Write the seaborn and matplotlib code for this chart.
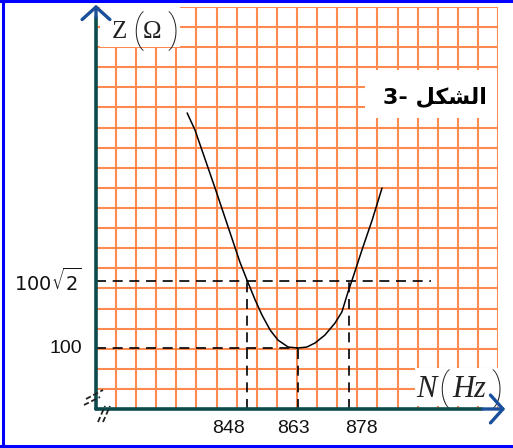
import numpy as np
import matplotlib
matplotlib.use("Agg")
import matplotlib.pyplot as plt
import seaborn as sns
from matplotlib.lines import Line2D
from matplotlib.patches import Rectangle, FancyArrowPatch

# ---------------- data ----------------
freq_hz = [830.4, 832.7, 838.6, 845.9, 848.0, 850.4, 852.4, 854.8, 857.1, 860.1,
           863.0, 865.6, 868.0, 870.9, 873.9, 875.9, 877.7, 878.9, 881.8, 884.8, 887.7]
impedance_ohm = [245.3, 234.8, 198.9, 153.2, 142.0, 129.7, 120.4, 111.1, 104.9, 100.6,
                 100.0, 100.6, 103.1, 108.0, 115.5, 122.3, 134.6, 142.0, 160.6, 179.1, 198.9]
marked_freq = [848, 863, 878]
marked_freq_labels = ["848", "863", "878"]
z_levels = [100.0, 100.0 * np.sqrt(2)]
z_level_labels = ["100", r"$100\sqrt{2}$"]
y_title_parts = ["Z", "(", "\u03A9", ")"]          # Z(Ω)
x_title_parts = ["N", "(", "Hz", ")"]              # N(Hz)
fig_title = "3- " + "\uFEDE\uFEDC\uFEB8\uFEDF\uFE8D"   # "الشكل -3" (shaped, visual order)

# ---------------- layout ----------------
W, H = 513, 448
XLIM = (803.6, 921.8)
YLIM = (62.3, 310.8)
SQRT2_LINE_END = 902.0
GRID_C = "#ff8a50"
AXIS_C = "#0b4b4b"
ARROW_C = "#1a4f9c"
BORDER_C = "#0000ff"


def P(px, py):
    return (px / W, 1 - py / H)


sns.set_theme(style="white")
plt.rcParams["font.family"] = ["Liberation Sans", "DejaVu Sans"]

fig = plt.figure(figsize=(W / 100, H / 100), dpi=100)
fig.patch.set_facecolor("white")
ax = fig.add_axes([96 / W, 1 - 409 / H, 402 / W, 402 / H])
ax.set_facecolor("white")
ax.set_xlim(*XLIM)
ax.set_ylim(*YLIM)
ax.set_xticks(np.linspace(XLIM[0], XLIM[1], 21))
ax.set_yticks(np.linspace(YLIM[0], YLIM[1], 21))
ax.tick_params(length=0, labelbottom=False, labelleft=False)
ax.grid(True, color=GRID_C, lw=1.5)
for s in ax.spines.values():
    s.set_visible(False)

# resonance curve
sns.lineplot(x=freq_hz, y=impedance_ohm, ax=ax, color="black", lw=1.1,
             estimator=None, sort=False, zorder=4)

# dashed construction lines
dash = dict(color="black", lw=1.2, ls=(0, (6, 4)), zorder=3)
ax.plot([XLIM[0], marked_freq[1]], [z_levels[0]] * 2, **dash)
ax.plot([XLIM[0], SQRT2_LINE_END], [z_levels[1]] * 2, **dash)
ax.plot([marked_freq[0]] * 2, [YLIM[0], z_levels[1]], **dash)
ax.plot([marked_freq[1]] * 2, [YLIM[0], z_levels[0]], **dash)
ax.plot([marked_freq[2]] * 2, [YLIM[0], z_levels[1]], **dash)

# tick labels
x_off = [-19, -5, 12]
for f, lab, dx in zip(marked_freq, marked_freq_labels, x_off):
    ax.annotate(lab, xy=(f, YLIM[0]), xytext=(dx * 0.72, -19 * 0.72),
                textcoords="offset points", ha="center", va="center",
                fontsize=14, color="#111111", annotation_clip=False)
for z, lab in zip(z_levels, z_level_labels):
    ax.annotate(lab, xy=(XLIM[0], z), xytext=(-14 * 0.72, 0),
                textcoords="offset points", ha="right", va="center",
                fontsize=14, color="#111111", annotation_clip=False,
                math_fontfamily="dejavusans")

# white boxes behind titles
for (x0, y0, x1, y1) in [(100, 0, 180, 47), (365, 70, 497, 118), (415, 368, 499, 406)]:
    fig.add_artist(Rectangle(P(x0, y1), (x1 - x0) / W, (y1 - y0) / H,
                             transform=fig.transFigure, facecolor="white",
                             edgecolor="none", zorder=5))

serif = ["Liberation Serif", "DejaVu Serif"]
paren_font = dict(family=["Roboto", "DejaVu Sans"], fontweight="light")
# Z(Ω)
for i, (txt, (px, py), size) in enumerate(zip(y_title_parts,
                                               [(112, 38), (132, 42), (143, 38), (167, 42)],
                                               [18, 27, 18, 27])):
    kw = paren_font if i in (1, 3) else dict(family=serif)
    fig.text(*P(px, py), txt, ha="left", va="baseline", fontsize=size,
             color="#222222", zorder=6, **kw)
# N(Hz)
for i, (txt, (px, py), size) in enumerate(zip(x_title_parts,
                                               [(416, 397), (438, 400), (452, 397), (491, 400)],
                                               [22, 27, 22, 27])):
    kw = paren_font if i in (1, 3) else dict(family=serif, style="italic")
    fig.text(*P(px, py), txt, ha="left", va="baseline", fontsize=size,
             color="#222222", zorder=6, **kw)

fig.text(*P(435, 97), fig_title, ha="center", va="center", fontsize=16,
         fontweight="bold", family=["DejaVu Sans"], color="black", zorder=6)

# axes lines with arrows
fig.add_artist(Line2D([P(96, 0)[0]] * 2, [P(0, 409)[1], P(0, 17)[1]],
                      transform=fig.transFigure, color=AXIS_C, lw=2.6, zorder=7))
fig.add_artist(Line2D([P(96, 0)[0], P(482, 0)[0]], [P(0, 409)[1]] * 2,
                      transform=fig.transFigure, color=AXIS_C, lw=2.6, zorder=7))
fig.add_artist(FancyArrowPatch(P(96, 20), P(96, 2), transform=fig.transFigure,
                               arrowstyle="->,head_length=0.45,head_width=0.5",
                               mutation_scale=20, color=ARROW_C, lw=2.4, zorder=8))
fig.add_artist(FancyArrowPatch(P(480, 409), P(508, 409), transform=fig.transFigure,
                               arrowstyle="->,head_length=0.45,head_width=0.5",
                               mutation_scale=20, color=ARROW_C, lw=2.4, zorder=8))

# axis-break marks
for (a, b) in [((86, 399), (103, 390)), ((84, 405), (100, 397)),
               ((98, 422), (105, 406)), ((103, 422), (110, 406))]:
    fig.add_artist(Line2D([P(*a)[0], P(*b)[0]], [P(*a)[1], P(*b)[1]],
                          transform=fig.transFigure, color="#222222", lw=1.3,
                          ls=(0, (3, 1.5)), zorder=8))

# blue frame (top, left, bottom)
for xs, ys in [((0, 513), (1, 1)), ((3, 3), (0, 446)), ((0, 513), (446, 446))]:
    fig.add_artist(Line2D([xs[0] / W, xs[1] / W], [1 - ys[0] / H, 1 - ys[1] / H],
                          transform=fig.transFigure, color=BORDER_C, lw=2.2, zorder=9))

fig.savefig("out.png", dpi=100)
